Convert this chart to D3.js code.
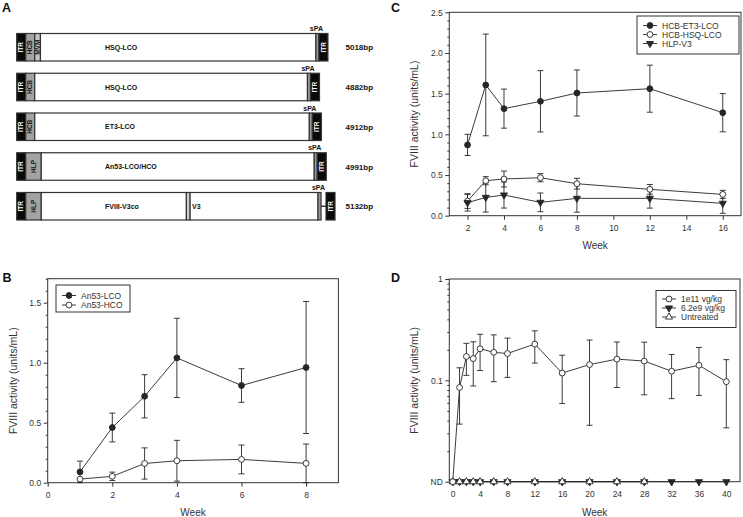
<!DOCTYPE html>
<html><head><meta charset="utf-8">
<script src="https://cdn.jsdelivr.net/npm/d3@7"></script>
<style>body{margin:0;background:#fff}svg{display:block}</style>
</head><body><svg id="c" width="743" height="517"></svg>
<script>
// ================= DATA =================
// Panel A: vector constructs (segment label, type, length in bp)
const constructSizes = [5018, 4882, 4912, 4991, 5132];
const constructSegments = [
  [["ITR","itr",145],["HCB","prom",146],["MVM","intron",92],["HSQ-LCO","cds",4441],["sPA","spa",49],["ITR","itr",145]],
  [["ITR","itr",145],["HCB","prom",146],["HSQ-LCO","cds",4397],["sPA","spa",49],["ITR","itr",145]],
  [["ITR","itr",145],["HCB","prom",146],["ET3-LCO","cds",4427],["sPA","spa",49],["ITR","itr",145]],
  [["ITR","itr",145],["HLP","prom",251],["An53-LCO/HCO","cds",4401],["sPA","spa",49],["ITR","itr",145]],
  [["ITR","itr",145],["HLP","prom",251],["FVIII-V3co","cds",2340],["","junction",60],["V3","cds2",2062],["sPA","spa",49],["","spacer",80],["ITR","itr",145]]
];

// Panel B
const weeksB = [1, 2, 3, 4, 6, 8];
const an53LcoMean = [0.09, 0.46, 0.72, 1.04, 0.81, 0.96];
const an53LcoSD   = [0.09, 0.12, 0.18, 0.33, 0.14, 0.55];
const an53HcoMean = [0.03, 0.053, 0.16, 0.183, 0.194, 0.161];
const an53HcoSD   = [0, 0.035, 0.13, 0.17, 0.12, 0.161];
const xTicksB = [0, 2, 4, 6, 8];
const yTicksB = [0, 0.5, 1.0, 1.5];

// Panel C
const weeksC = [2, 3, 4, 6, 8, 12, 16];
const et3Mean = [0.87, 1.607, 1.316, 1.406, 1.508, 1.561, 1.266];
const et3SD   = [0.13, 0.625, 0.24, 0.377, 0.283, 0.289, 0.235];
const hsqMean = [0.18, 0.43, 0.451, 0.467, 0.393, 0.324, 0.262];
const hsqSD   = [0.09, 0.05, 0.098, 0.05, 0.066, 0.06, 0.05];
const v3Mean  = [0.16, 0.225, 0.254, 0.164, 0.213, 0.213, 0.152];
const v3SD    = [0.103, 0.18, 0.16, 0.115, 0.17, 0.12, 0.123];
const xTicksC = [2, 4, 6, 8, 10, 12, 14, 16];
const yTicksC = [0, 0.5, 1.0, 1.5, 2.0, 2.5];

// Panel D
const weeksD = [0, 1, 2, 3, 4, 6, 8, 12, 16, 20, 24, 28, 32, 36, 40];
const dose1e11Mean = ["ND", 0.085, 0.172, 0.164, 0.205, 0.189, 0.184, 0.228, 0.118, 0.143, 0.162, 0.155, 0.123, 0.141, 0.097];
const dose1e11SD   = [0, 0.048, 0.06, 0.076, 0.08, 0.092, 0.077, 0.08, 0.059, 0.107, 0.077, 0.083, 0.057, 0.07, 0.063];
const dose62e9Mean = ["ND","ND","ND","ND","ND","ND","ND","ND","ND","ND","ND","ND","ND","ND","ND"];
const weeksUntreated = [0, 1, 2, 3, 4, 6, 8, 12, 16, 20, 24, 28];
const untreatedMean = ["ND","ND","ND","ND","ND","ND","ND","ND","ND","ND","ND","ND"];
const xTicksD = [0, 4, 8, 12, 16, 20, 24, 28, 32, 36, 40];
const yTicksD = [0.01, 0.1, 1];
const yTickLabelsD = ["ND", "0.1", "1"];
const ND_LEVEL = 0.01;

// ================= DRAWING =================
const svg = d3.select("#c");
const FONT = "'Liberation Sans', Arial, Helvetica, sans-serif";
const INK = "#262626";
const AXIS = "#333";
const TXT = "#333";

// ---------- Panel labels ----------
[["A",2,12],["B",2.5,282],["C",391,12],["D",391,282]].forEach(([t,x,y]) => {
  svg.append("text").attr("x",x).attr("y",y).text(t)
    .attr("font-family",FONT).attr("font-weight","bold").attr("font-size",12.5).attr("fill","#111");
});

// ---------- Panel A ----------
(function panelA(){
  const g = svg.append("g");
  const xbp = d3.scaleLinear().domain([0, 5132]).range([16.7, 335]);
  const rowTop = d3.scaleLinear().domain([0, 4]).range([33.5, 192.5]);
  const H = 27.5;
  const fills = {itr:"#0a0a0a", prom:"#a3a3a3", intron:"#c4c4c4", cds:"#fff", cds2:"#fff", spa:"#9a9a9a", junction:"#d0d0d0"};
  constructSegments.forEach((segs, i) => {
    const top = rowTop(i);
    let acc = 0;
    segs.forEach(([label, type, len]) => {
      const x0 = xbp(acc);
      const x1 = xbp(acc + len);
      acc += len;
      if (type === "spacer") {
        g.append("line").attr("x1",x0).attr("x2",x1).attr("y1",top+H/2).attr("y2",top+H/2)
          .attr("stroke","#222").attr("stroke-width",1.3);
        return;
      }
      g.append("rect").attr("x",x0).attr("y",top).attr("width",x1-x0).attr("height",H)
        .attr("fill",fills[type]).attr("stroke","#333").attr("stroke-width",1.2);
      if (type === "itr" || type === "prom" || type === "intron") {
        g.append("text").attr("transform",`translate(${(x0+x1)/2+2.2},${top+H/2}) rotate(-90)`)
          .attr("text-anchor","middle").text(label)
          .attr("font-family",FONT).attr("font-weight","bold").attr("font-size",6.5)
          .attr("fill", type === "itr" ? "#fff" : "#111");
      } else if (type === "cds") {
        g.append("text").attr("x",105).attr("y",top+H/2+2.5).text(label)
          .attr("font-family",FONT).attr("font-weight","bold").attr("font-size",7).attr("fill","#111");
      } else if (type === "cds2") {
        g.append("text").attr("x",x0+2).attr("y",top+H/2+2.5).text(label)
          .attr("font-family",FONT).attr("font-weight","bold").attr("font-size",7).attr("fill","#111");
      } else if (type === "spa") {
        g.append("text").attr("x",(x0+x1)/2 - 1).attr("y",top-2.5).attr("text-anchor","middle").text(label)
          .attr("font-family",FONT).attr("font-weight","bold").attr("font-size",7).attr("fill","#111");
      }
    });
    g.append("text").attr("x",345.5).attr("y",top+H/2+3).text(constructSizes[i] + "bp")
      .attr("font-family",FONT).attr("font-weight","bold").attr("font-size",8).attr("fill","#111");
  });
})();

// ---------- helpers ----------
function axesFrame(g, x, y, o) {
  const [x0, x1] = x.range();
  const [y0, y1] = y.range();
  g.append("rect").attr("x",x0).attr("y",y1).attr("width",x1-x0).attr("height",y0-y1)
    .attr("fill","none").attr("stroke",AXIS).attr("stroke-width",1);
  g.append("g").attr("transform",`translate(${x0},0)`)
    .call(d3.axisLeft(y).tickValues(o.yTicks).tickFormat(o.yFmt).tickSize(4).tickPadding(2.5));
  g.append("g").attr("transform",`translate(${x0},0)`)
    .call(d3.axisLeft(y).tickValues(o.yMinor).tickFormat("").tickSize(2));
  const ax = g.append("g").attr("transform",`translate(0,${y0})`)
    .call(d3.axisBottom(x).tickValues(o.xTicks).tickSize(4));
  g.selectAll(".domain").remove();
  g.selectAll(".tick line").attr("stroke",AXIS);
  ax.selectAll("text").attr("y",15.5).attr("dy",null);
  g.selectAll("text").attr("font-family",FONT).attr("font-size",8.5).attr("fill",TXT);
  g.selectAll("g").attr("font-family",null).attr("font-size",null);
  g.append("text").attr("transform",`translate(${x0-31},${(y0+y1)/2}) rotate(-90)`)
    .attr("text-anchor","middle").text("FVIII activity (units/mL)")
    .attr("font-family",FONT).attr("font-size",10.5).attr("fill",TXT);
  g.append("text").attr("x",(x0+x1)/2).attr("y",y0 + o.weekDy).attr("text-anchor","middle").text("Week")
    .attr("font-family",FONT).attr("font-size",10).attr("fill",TXT);
}

const symCircle = d3.symbol().type(d3.symbolCircle).size(27);
const symTri = d3.symbol().type(d3.symbolTriangle).size(22);
function marker(g, cx, cy, kind) {
  const p = g.append("path");
  if (kind === "fcircle") p.attr("d",symCircle()).attr("fill",INK).attr("stroke",INK);
  if (kind === "ocircle") p.attr("d",symCircle()).attr("fill","#fff").attr("stroke",INK);
  if (kind === "ftridown") p.attr("d",symTri()).attr("fill",INK).attr("stroke",INK);
  if (kind === "otriup") p.attr("d",symTri()).attr("fill","#fff").attr("stroke",INK);
  const rot = kind === "ftridown" ? " rotate(180)" : "";
  p.attr("transform",`translate(${cx},${cy})${rot}`).attr("stroke-width",0.9);
}

function series(g, x, y, weeks, mean, sd) {
  const val = v => v === "ND" ? ND_LEVEL : v;
  const pts = weeks.map((w, i) => ({w, m: val(mean[i]), s: sd ? sd[i] : 0}));
  if (sd) {
    pts.forEach(p => {
      if (!p.s) return;
      const cx = x(p.w);
      [[p.m, p.m + p.s], [p.m, Math.max(p.m - p.s, y.domain()[0])]].forEach(([a, b]) => {
        g.append("line").attr("x1",cx).attr("x2",cx).attr("y1",y(a)).attr("y2",y(b))
          .attr("stroke",INK).attr("stroke-width",0.9);
        g.append("line").attr("x1",cx-3).attr("x2",cx+3).attr("y1",y(b)).attr("y2",y(b))
          .attr("stroke",INK).attr("stroke-width",0.9);
      });
    });
  }
  g.append("path").datum(pts)
    .attr("d", d3.line().x(d => x(d.w)).y(d => y(d.m)))
    .attr("fill","none").attr("stroke",INK).attr("stroke-width",0.9);
  return pts;
}
function markers(g, x, y, pts, kind) { pts.forEach(p => marker(g, x(p.w), y(p.m), kind)); }

function legend(g, box, entries) {
  g.append("rect").attr("x",box.x).attr("y",box.y).attr("width",box.w).attr("height",box.h)
    .attr("fill","#fff").attr("stroke",AXIS).attr("stroke-width",1);
  entries.forEach((e, i) => {
    const yy = box.y + box.first + i * box.step;
    const lx = box.x + 6;
    g.append("line").attr("x1",lx).attr("x2",lx+14).attr("y1",yy).attr("y2",yy)
      .attr("stroke",INK).attr("stroke-width",0.9);
    marker(g, lx + 7, yy, e.kind);
    g.append("text").attr("x",lx+19).attr("y",yy+3).text(e.label)
      .attr("font-family",FONT).attr("font-size",8.5).attr("fill",TXT);
  });
}

const range01 = (a, b, s) => d3.range(a, b + 1e-9, s).map(v => +v.toFixed(3));

// ---------- Panel B ----------
(function panelB(){
  const g = svg.append("g");
  const x = d3.scaleLinear().domain([0, 9]).range([47.7, 338.4]);
  const y = d3.scaleLinear().domain([0, 1.7]).range([482.7, 278.7]);
  axesFrame(g, x, y, {yTicks: yTicksB, yFmt: d3.format(".1f"),
    yMinor: range01(0, 1.7, 0.1).filter(v => !yTicksB.includes(v)), xTicks: xTicksB, weekDy: 33.5});
  const p1 = series(g, x, y, weeksB, an53LcoMean, an53LcoSD);
  const p2 = series(g, x, y, weeksB, an53HcoMean, an53HcoSD);
  markers(g, x, y, p1, "fcircle");
  markers(g, x, y, p2, "ocircle");
  legend(g, {x:56, y:285, w:74, h:27, first:10.5, step:9.5},
    [{label:"An53-LCO", kind:"fcircle"}, {label:"An53-HCO", kind:"ocircle"}]);
})();

// ---------- Panel C ----------
(function panelC(){
  const g = svg.append("g");
  const x = d3.scaleLinear().domain([1, 17]).range([449.3, 741]);
  const y = d3.scaleLinear().domain([0, 2.5]).range([215.7, 12.3]);
  axesFrame(g, x, y, {yTicks: yTicksC, yFmt: d3.format(".1f"),
    yMinor: range01(0, 2.5, 0.1).filter(v => !yTicksC.includes(v)), xTicks: xTicksC, weekDy: 33.5});
  const p1 = series(g, x, y, weeksC, et3Mean, et3SD);
  const p2 = series(g, x, y, weeksC, hsqMean, hsqSD);
  const p3 = series(g, x, y, weeksC, v3Mean, v3SD);
  markers(g, x, y, p1, "fcircle");
  markers(g, x, y, p2, "ocircle");
  markers(g, x, y, p3, "ftridown");
  legend(g, {x:637, y:16, w:102, h:38, first:9.5, step:9},
    [{label:"HCB-ET3-LCO", kind:"fcircle"}, {label:"HCB-HSQ-LCO", kind:"ocircle"}, {label:"HLP-V3", kind:"ftridown"}]);
})();

// ---------- Panel D ----------
(function panelD(){
  const g = svg.append("g");
  const x = d3.scaleLinear().domain([-0.5, 42]).range([449.3, 740]);
  const y = d3.scaleLog().domain([0.01, 1]).range([481.7, 279]);
  const minor = [];
  [0.01, 0.1].forEach(d => { for (let k = 2; k <= 9; k++) minor.push(+(d*k).toFixed(3)); });
  axesFrame(g, x, y, {yTicks: yTicksD, yFmt: (d, i) => yTickLabelsD[i],
    yMinor: minor, xTicks: xTicksD, weekDy: 34.5});
  const pB = series(g, x, y, weeksD, dose62e9Mean, null);
  const pC = series(g, x, y, weeksUntreated, untreatedMean, null);
  const pA = series(g, x, y, weeksD, dose1e11Mean, dose1e11SD);
  markers(g, x, y, pB, "ftridown");
  markers(g, x, y, pC, "otriup");
  markers(g, x, y, pA, "ocircle");
  legend(g, {x:656, y:290.5, w:80, h:37, first:8.5, step:9},
    [{label:"1e11 vg/kg", kind:"ocircle"}, {label:"6.2e9 vg/kg", kind:"ftridown"}, {label:"Untreated", kind:"otriup"}]);
})();
</script>
</body></html>
